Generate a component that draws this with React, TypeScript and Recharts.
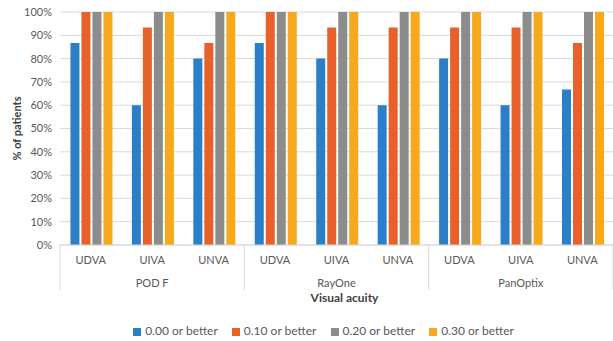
import { Bar, BarChart, CartesianGrid, Legend, XAxis, YAxis } from "recharts";

const groups = ["POD F", "RayOne", "PanOptix"];
const acuities = ["UDVA", "UIVA", "UNVA"];

const better000 = [86.7, 60, 80, 86.7, 80, 60, 80, 60, 66.7];
const better010 = [100, 93.3, 86.7, 100, 93.3, 93.3, 93.3, 93.3, 86.7];
const better020 = [100, 100, 100, 100, 100, 100, 100, 100, 100];
const better030 = [100, 100, 100, 100, 100, 100, 100, 100, 100];

const yTicks = [0, 10, 20, 30, 40, 50, 60, 70, 80, 90, 100];

const data = groups.flatMap((g, gi) =>
  acuities.map((a, ai) => {
    const i = gi * acuities.length + ai;
    return {
      key: `${g}-${a}`,
      acuity: a,
      group: g,
      b000: better000[i],
      b010: better010[i],
      b020: better020[i],
      b030: better030[i],
    };
  })
);

const W = 613;
const H = 341;
const Y_AXIS_W = 60;
const PLOT_W = W - Y_AXIS_W;
const bandW = PLOT_W / data.length;

const font = "Lato, 'Open Sans', sans-serif";
const textColor = "#595959";
const lineColor = "#d9d9d9";

function CategoryTick(props: any) {
  const { x, y, index } = props;
  const row = data[index];
  const pos = index % acuities.length;
  return (
    <g>
      <text
        x={x}
        y={y + 19}
        textAnchor="middle"
        fontSize={11}
        fill={textColor}
        fontFamily={font}
      >
        {row.acuity}
      </text>
      {pos === 1 && (
        <text
          x={x}
          y={y + 42}
          textAnchor="middle"
          fontSize={11}
          fill={textColor}
          fontFamily={font}
        >
          {row.group}
        </text>
      )}
      {pos === 0 && (
        <line
          x1={x - bandW / 2}
          x2={x - bandW / 2}
          y1={y}
          y2={y + 45}
          stroke={lineColor}
        />
      )}
      {index === data.length - 1 && (
        <line
          x1={x + bandW / 2}
          x2={x + bandW / 2}
          y1={y}
          y2={y + 45}
          stroke={lineColor}
        />
      )}
    </g>
  );
}

export default function App() {
  return (
    <div
      style={{
        position: "absolute",
        left: 0,
        top: 0,
        width: W,
        height: H,
        background: "#fff",
      }}
    >
      <BarChart
        width={W}
        height={H}
        data={data}
        margin={{ top: 12, right: 0, left: 0, bottom: 3 }}
        barCategoryGap="17%"
        barGap={2}
      >
        <CartesianGrid vertical={false} stroke={lineColor} />
        <XAxis
          dataKey="key"
          interval={0}
          height={78}
          tickLine={false}
          tickSize={0}
          tickMargin={0}
          axisLine={{ stroke: lineColor }}
          tick={<CategoryTick />}
          label={{
            content: (p: any) => {
              const vb = p.viewBox;
              return (
                <text
                  x={vb.x + vb.width / 2 + 8}
                  y={vb.y + 57}
                  textAnchor="middle"
                  fontSize={12}
                  fontWeight="bold"
                  fill="#404040"
                  fontFamily={font}
                >
                  Visual acuity
                </text>
              );
            },
          }}
        />
        <YAxis
          width={Y_AXIS_W}
          domain={[0, 100]}
          ticks={yTicks}
          interval={0}
          tickFormatter={(v) => `${v}%`}
          axisLine={false}
          tickLine={false}
          tick={{ fontSize: 11, fill: textColor, fontFamily: font }}
          label={{
            content: (p: any) => {
              const vb = p.viewBox;
              const cy = vb.y + vb.height / 2;
              return (
                <text
                  x={18}
                  y={cy}
                  transform={`rotate(-90 18 ${cy})`}
                  textAnchor="middle"
                  dominantBaseline="middle"
                  fontSize={11}
                  fontWeight="bold"
                  fill="#404040"
                  fontFamily={font}
                >
                  % of patients
                </text>
              );
            },
          }}
        />
        <Legend
          verticalAlign="bottom"
          iconType="square"
          iconSize={8}
          wrapperStyle={{ fontSize: 12, fontFamily: font, paddingLeft: 24 }}
          formatter={(v) => (
            <span style={{ color: textColor, paddingRight: 4 }}>{v}</span>
          )}
        />
        <Bar dataKey="b000" name="0.00 or better" fill="#2b7fc9" isAnimationActive={false} />
        <Bar dataKey="b010" name="0.10 or better" fill="#e8602a" isAnimationActive={false} />
        <Bar dataKey="b020" name="0.20 or better" fill="#8c8c8c" isAnimationActive={false} />
        <Bar dataKey="b030" name="0.30 or better" fill="#f8a81c" isAnimationActive={false} />
      </BarChart>
    </div>
  );
}
